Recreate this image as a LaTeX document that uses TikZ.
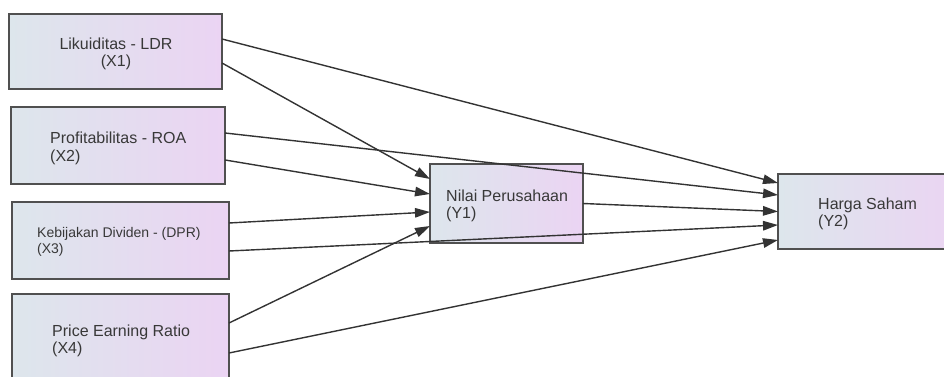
\documentclass[tikz,border=0pt]{standalone}
\usepackage{fontspec}
\setmainfont{Liberation Sans}
\usetikzlibrary{arrows.meta}
\definecolor{boxleft}{HTML}{DDE6EC}
\definecolor{boxright}{HTML}{EBD4F3}
\definecolor{edgegray}{HTML}{505050}
\definecolor{txtgray}{HTML}{383838}
\definecolor{linegray}{HTML}{333333}
\begin{document}
\begin{tikzpicture}[x=1pt,y=-1pt,
  varbox/.style={draw=edgegray, line width=1.5pt, left color=boxleft, right color=boxright,
                 inner sep=0pt, outer sep=0pt},
  varlabel/.style={text=txtgray, font=\fontsize{16}{17}\selectfont, align=left,
                   inner sep=0pt, anchor=base west},
  link/.style={draw=linegray, line width=1.4pt, -{Triangle[length=15pt,width=9.5pt]}}
]
\useasboundingbox (0,0) rectangle (944,377);

% variable boxes
\node[varbox, minimum width=213pt, minimum height=75pt] (x1) at (115.5,51.5) {};
\node[varbox, minimum width=214pt, minimum height=77pt] (x2) at (118,145.5) {};
\node[varbox, minimum width=217pt, minimum height=77pt] (x3) at (120.5,240.5) {};
\node[varbox, minimum width=217pt, minimum height=88pt] (x4) at (120.5,338) {};
\node[varbox, minimum width=153pt, minimum height=79pt] (y1) at (506.5,203.5) {};
\node[varbox, minimum width=182pt, minimum height=75pt] (y2) at (869,211.5) {};

% box captions (anchored at the baseline of the last line)
\node[varlabel, align=center, anchor=base] (x1t) at (116,67) {Likuiditas - LDR\\(X1)};
\node[varlabel, font=\fontsize{16}{18.5}\selectfont] (x2t) at (50,161.5) {Profitabilitas - ROA\\(X2)};
\node[varlabel, font=\fontsize{14}{16}\selectfont] (x3t) at (37,253) {Kebijakan Dividen - (DPR)\\(X3)};
\node[varlabel] (x4t) at (52,353) {Price Earning Ratio\\(X4)};
\node[varlabel] (y1t) at (446,218.5) {Nilai Perusahaan\\(Y1)};
\node[varlabel] (y2t) at (818,226) {Harga Saham\\(Y2)};

% paths
\draw[link] ([yshift=12.5pt]x1.east) -- ([yshift=28.5pt]y2.west);
\draw[link] ([yshift=-11.5pt]x1.east) -- ([yshift=24.5pt]y1.west);
\draw[link] ([yshift=12.5pt]x2.east) -- ([yshift=16.5pt]y2.west);
\draw[link] ([yshift=-14.5pt]x2.east) -- ([yshift=9.5pt]y1.west);
\draw[link] ([yshift=17.5pt]x3.east) -- ([yshift=-8.5pt]y1.west);
\draw[link] ([yshift=-10.5pt]x3.east) -- ([yshift=-13.5pt]y2.west);
\draw[link] ([yshift=15pt]x4.east) -- ([yshift=-22.5pt]y1.west);
\draw[link] ([yshift=-15pt]x4.east) -- ([yshift=-28.5pt]y2.west);
\draw[link] (y1.east) -- (y2.west);
\end{tikzpicture}
\end{document}
